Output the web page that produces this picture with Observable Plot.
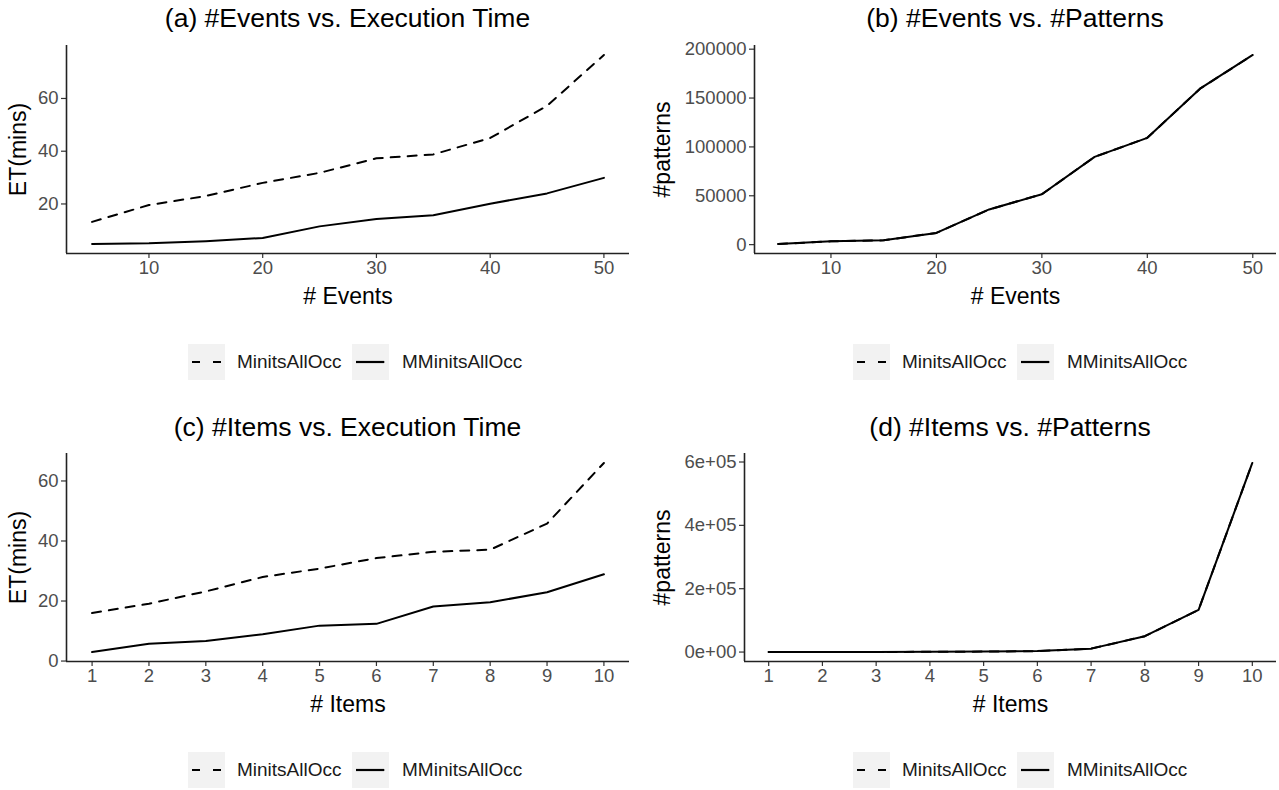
<!DOCTYPE html>
<html>
<head>
<meta charset="utf-8">
<script src="https://cdn.jsdelivr.net/npm/d3@7"></script>
<script src="https://cdn.jsdelivr.net/npm/@observablehq/plot@0.6"></script>
<style>
  html, body { margin: 0; padding: 0; background: #fff; }
  #page { position: relative; width: 1279px; height: 790px; overflow: hidden; font-family: "Liberation Sans", Arial, Helvetica, sans-serif; }
  .title { position: absolute; font-size: 26.5px; line-height: 28px; color: #000; white-space: nowrap; transform: translateX(-50%); }
  .plot { position: absolute; }
  .legend { position: absolute; height: 36px; }
  .legend .key { position: absolute; top: 0; width: 37px; height: 36px; background: #f2f2f2; }
  .legend .lab { position: absolute; top: 0; line-height: 36px; font-size: 19px; color: #1a1a1a; white-space: nowrap; }
</style>
</head>
<body>
<div id="page"></div>
<script>
// ---------- data ----------
const seriesNames = ["MinitsAllOcc", "MMinitsAllOcc"];
const events = [5, 10, 15, 20, 25, 30, 35, 40, 45, 50];
const etEventsMinits  = [13.2, 19.6, 23.0, 28.0, 31.8, 37.3, 38.8, 45.0, 57.2, 76.5];
const etEventsMMinits = [4.8, 5.1, 5.9, 7.1, 11.5, 14.3, 15.7, 20.1, 24.0, 29.9];
const patternsEventsMinits  = [600, 3400, 4400, 12000, 36000, 51500, 89800, 109300, 159600, 194100];
const patternsEventsMMinits = [600, 3400, 4400, 12000, 36000, 51500, 89800, 109300, 159600, 194100];
const items = [1, 2, 3, 4, 5, 6, 7, 8, 9, 10];
const etItemsMinits  = [16.0, 19.1, 23.2, 28.0, 30.8, 34.3, 36.4, 37.1, 45.8, 66.0];
const etItemsMMinits = [3.0, 5.8, 6.7, 8.9, 11.8, 12.4, 18.2, 19.6, 22.9, 28.9];
const patternsItemsMinits  = [30, 100, 300, 700, 1500, 3000, 10800, 50000, 133000, 597000];
const patternsItemsMMinits = [30, 100, 300, 700, 1500, 3000, 10800, 50000, 133000, 597000];

const eventTicks = [10, 20, 30, 40, 50];
const itemTicks = [1, 2, 3, 4, 5, 6, 7, 8, 9, 10];
const etTicksA = [20, 40, 60];
const patTicksB = [0, 50000, 100000, 150000, 200000];
const etTicksC = [0, 20, 40, 60];
const patTicksD = [0, 200000, 400000, 600000];

const titles = ["(a) #Events vs. Execution Time", "(b) #Events vs. #Patterns", "(c) #Items vs. Execution Time", "(d) #Items vs. #Patterns"];

// ---------- helpers ----------
const FONT = '"Liberation Sans", Arial, Helvetica, sans-serif';
const page = document.getElementById("page");

function expand(values) {
  const [a, b] = d3.extent(values);
  const p = (b - a) * 0.05;
  return [a - p, b + p];
}
function sci(v) {
  if (v === 0) return "0e+00";
  const e = Math.floor(Math.log10(Math.abs(v)));
  const m = Math.round(v / Math.pow(10, e));
  return m + "e" + (e < 0 ? "-" : "+") + String(Math.abs(e)).padStart(2, "0");
}

function makePanel(cfg) {
  const rows = [];
  cfg.series.forEach((vals, si) => vals.forEach((v, i) => rows.push({series: seriesNames[si], x: cfg.xs[i], y: v})));
  const xDom = expand(cfg.xs);
  const yDom = expand(cfg.series.flat());
  const svg = Plot.plot({
    width: cfg.width,
    height: 275,
    marginLeft: cfg.marginLeft,
    marginRight: cfg.marginRight,
    marginTop: 10,
    marginBottom: 57,
    style: {fontFamily: FONT, background: "transparent", overflow: "visible"},
    x: {domain: xDom},
    y: {domain: yDom},
    marks: [
      Plot.axisX({ticks: cfg.xTicks, tickSize: 5, tickPadding: 2, fontSize: 18.5, stroke: "#333", fill: "#4d4d4d", strokeWidth: 1.2, label: null, tickFormat: d3.format("d")}),
      Plot.axisY({ticks: cfg.yTicks, tickSize: 5, tickPadding: 3, fontSize: 18.5, stroke: "#333", fill: "#4d4d4d", strokeWidth: 1.2, label: null, tickFormat: cfg.yFormat}),
      Plot.ruleY([yDom[0]], {stroke: "#222", strokeWidth: 1.6}),
      Plot.ruleX([xDom[0]], {stroke: "#222", strokeWidth: 1.6}),
      Plot.line(rows.filter(d => d.series === seriesNames[0]), {x: "x", y: "y", stroke: "#000", strokeWidth: 2, strokeDasharray: "9,8"}),
      Plot.line(rows.filter(d => d.series === seriesNames[1]), {x: "x", y: "y", stroke: "#000", strokeWidth: 2}),
      Plot.text([cfg.xLabel], {frameAnchor: "bottom", textAnchor: "middle", lineAnchor: "middle", dy: 43, fontSize: 23, fill: "#000"}),
      Plot.text([cfg.yLabel], {frameAnchor: "left", textAnchor: "middle", lineAnchor: "middle", rotate: -90, dx: cfg.yLabelDx, fontSize: 23, fill: "#000"})
    ]
  });
  svg.classList.add("plot");
  svg.style.left = cfg.left + "px";
  svg.style.top = cfg.top + "px";
  page.appendChild(svg);

  const t = document.createElement("div");
  t.className = "title";
  t.textContent = cfg.title;
  t.style.left = (cfg.left + cfg.marginLeft + (cfg.width - cfg.marginLeft - cfg.marginRight) / 2) + "px";
  t.style.top = cfg.titleTop + "px";
  page.appendChild(t);

  // legend
  const lg = d3.select(page).append("div").attr("class", "legend")
    .style("left", cfg.legendLeft + "px").style("top", cfg.legendTop + "px");
  const keys = [{off: 0, lab: 49, dash: "8,13", x2: 33.7}, {off: 164, lab: 214, dash: null, x2: 32.3}];
  keys.forEach((k, i) => {
    const key = lg.append("div").attr("class", "key").style("left", k.off + "px");
    const s = key.append("svg").attr("width", 37).attr("height", 36);
    const ln = s.append("line").attr("x1", 4).attr("x2", k.x2).attr("y1", 18).attr("y2", 18)
      .attr("stroke", "#000").attr("stroke-width", 2.2);
    if (k.dash) ln.attr("stroke-dasharray", k.dash);
    lg.append("div").attr("class", "lab").style("left", k.lab + "px").text(seriesNames[i]);
  });
}

makePanel({left: 0, top: 35, width: 640, marginLeft: 66, marginRight: 11, xs: events,
  series: [etEventsMinits, etEventsMMinits], xTicks: eventTicks, yTicks: etTicksA, yFormat: d3.format("d"),
  xLabel: "# Events", yLabel: "ET(mins)", yLabelDx: -48, title: titles[0], titleTop: 4,
  legendLeft: 188, legendTop: 344});
makePanel({left: 640, top: 35, width: 639, marginLeft: 114, marginRight: 3, xs: events,
  series: [patternsEventsMinits, patternsEventsMMinits], xTicks: eventTicks, yTicks: patTicksB, yFormat: d3.format("d"),
  xLabel: "# Events", yLabel: "#patterns", yLabelDx: -92, title: titles[1], titleTop: 4,
  legendLeft: 853, legendTop: 344});
makePanel({left: 0, top: 443, width: 640, marginLeft: 66, marginRight: 11, xs: items,
  series: [etItemsMinits, etItemsMMinits], xTicks: itemTicks, yTicks: etTicksC, yFormat: d3.format("d"),
  xLabel: "# Items", yLabel: "ET(mins)", yLabelDx: -48, title: titles[2], titleTop: 413,
  legendLeft: 188, legendTop: 752});
makePanel({left: 640, top: 443, width: 639, marginLeft: 104, marginRight: 3, xs: items,
  series: [patternsItemsMinits, patternsItemsMMinits], xTicks: itemTicks, yTicks: patTicksD, yFormat: sci,
  xLabel: "# Items", yLabel: "#patterns", yLabelDx: -82, title: titles[3], titleTop: 413,
  legendLeft: 853, legendTop: 752});
</script>
</body>
</html>
